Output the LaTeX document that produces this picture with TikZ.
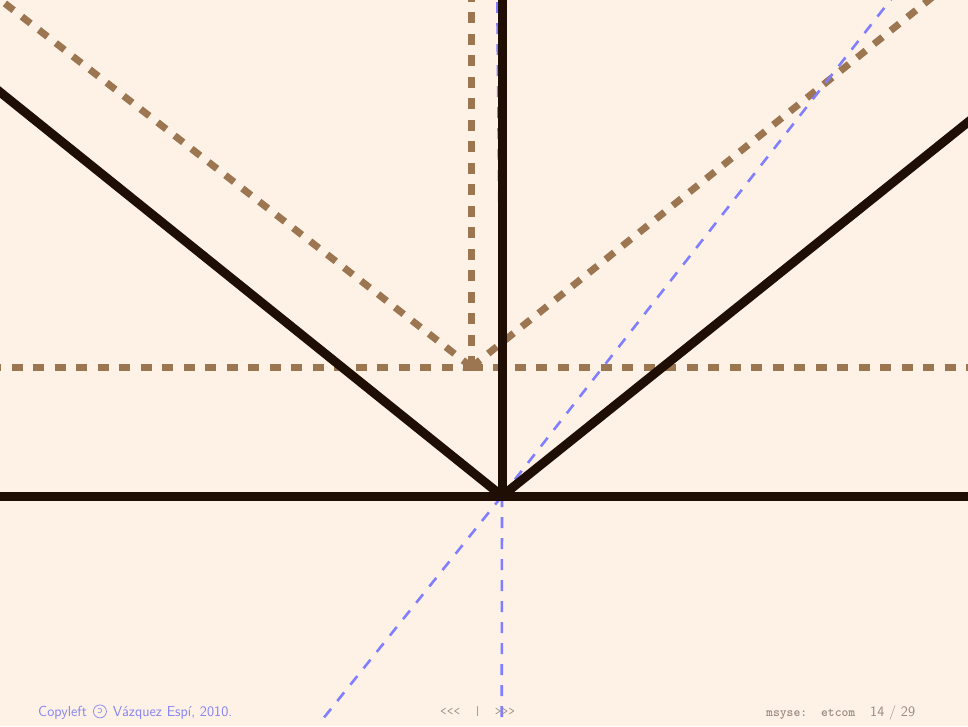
\documentclass[tikz,border=0pt]{standalone}
\usepackage{graphicx}
\definecolor{bgc}{HTML}{FEF1E6}
\definecolor{blk}{HTML}{1E0E04}
\definecolor{brn}{HTML}{9C7651}
\definecolor{blu}{HTML}{7F7FFF}
\definecolor{foot}{HTML}{8585F5}
\definecolor{gry}{HTML}{9A8C7E}
\begin{document}
\begin{tikzpicture}[x=1pt,y=-1pt,
  solidline/.style={draw=blk,line width=9pt},
  brownline/.style={draw=brn,line width=7pt,dash pattern=on 11pt off 10.5pt},
  blueline/.style={draw=blu,line width=2.6pt,dash pattern=on 11pt off 10pt},
  foottext/.style={inner sep=0pt,anchor=base west,font=\sffamily\fontsize{14.5}{16}\selectfont}]
\fill[bgc] (0,0) rectangle (968,726);
\useasboundingbox (0,0) rectangle (968,726);
\begin{scope}
\clip (0,0) rectangle (968,726);
% brown dashed system
\coordinate (B) at (471.5,367);
\coordinate (BL) at (-20,-16);
\coordinate (BR) at (950,-17);
\coordinate (BT) at (471.5,-10);
\coordinate (BW) at (-9.8,367);
\coordinate (BE) at (980,367);
\draw[brownline] (BW) -- (B);
\draw[brownline] (B) -- (BE);
\draw[brownline] (B) -- (BT);
\draw[brownline] (B) -- (BL);
\draw[brownline] (B) -- (BR);
\fill[brn] (B) ++(-9,3.5) arc[start angle=180,end angle=360,radius=9] -- cycle;
% blue dashed
\coordinate (O) at (502,496);
\coordinate (UT) at (497.3,0);
\coordinate (UB) at (501.7,728);
\coordinate (DT) at (892,-2);
\coordinate (DB) at (322,720);
\draw[blueline] (O) -- (UT);
\draw[blueline] (O) -- (UB);
\draw[blueline] (O) -- (DT);
\draw[blueline] (O) -- (DB);
% solid black
\coordinate (W) at (-10,496.5);
\coordinate (E) at (980,496.5);
\coordinate (N) at (502,-10);
\coordinate (NW) at (-10,84);
\coordinate (NE) at (980,112.5);
\draw[solidline] (W) -- (E);
\draw[solidline] (O) -- (N);
\draw[solidline] (O) -- (NW);
\draw[solidline] (O) -- (NE);
\end{scope}
% footer
\node[foottext,text=foot] (c1) at (38,716) {Copyleft};
\node[draw=foot,circle,line width=0.7pt,minimum size=13pt,inner sep=0pt,anchor=west] (c2) at ([xshift=6pt,yshift=4.6pt]c1.base east) {};
\node[text=foot,inner sep=0pt,font=\sffamily\fontsize{11}{12}\selectfont] (c3) at (c2.center) {\reflectbox{c}};
\node[foottext,text=foot] (c4) at ([xshift=6pt]c2.east |- c1.base) {Vázquez Espí, 2010.};
\node[foottext,text=gry,font=\ttfamily\fontsize{13}{14}\selectfont] (nav) at (440,715) {<<<\hspace{14pt}|\hspace{14pt}>>>};
\node[foottext,text=gry,font=\ttfamily\bfseries\fontsize{13}{14}\selectfont] (ms) at (766,716) {msyse:\hspace{14pt}etcom};
\node[foottext,text=gry] (pg) at (870,716) {14 / 29};
\end{tikzpicture}
\end{document}
